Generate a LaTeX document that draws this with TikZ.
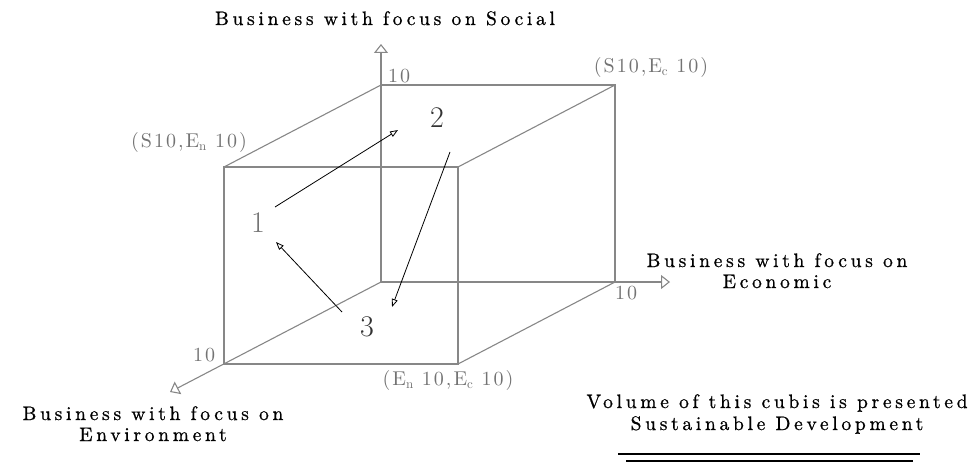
\documentclass[tikz,border=0pt]{standalone}
\usepackage{fontspec}
\usetikzlibrary{arrows.meta}
\newfontfamily\wideroman{lmroman10-regular.otf}[LetterSpace=19,FakeBold=0.8]
\newfontfamily\labroman{lmroman10-regular.otf}[LetterSpace=10]
\definecolor{cubegray}{RGB}{135,135,135}
\definecolor{labgray}{RGB}{115,115,115}
\tikzset{
 edge/.style={draw=cubegray, line width=1.1pt},
 axis/.style={edge, -{Triangle[open,length=9pt,width=14pt]}},
 move/.style={draw=black, line width=0.8pt, -{Triangle[open,length=8pt,width=6pt]}},
 title/.style={font=\wideroman\fontsize{19.5}{20}\selectfont, anchor=base, inner sep=0pt},
 coord/.style={text=labgray, font=\labroman\fontsize{20}{18}\selectfont, inner sep=0pt},
 num/.style={font=\fontsize{30}{30}\selectfont, inner sep=0pt},
 rule/.style={draw=black, line width=1.2pt}
}
\newcommand{\subsc}[1]{\raisebox{-3pt}{\fontsize{13}{13}\selectfont #1}}
\begin{document}
\begin{tikzpicture}[x=1pt,y=-1pt]
\useasboundingbox (0,0) rectangle (976,465);
% cube corners
\coordinate (O) at (381,282);
\coordinate (A) at (381,85);
\coordinate (B) at (615,85);
\coordinate (C) at (615,282);
\coordinate (D) at (224,167);
\coordinate (E) at (458,167);
\coordinate (F) at (458,364);
\coordinate (G) at (224,364);
\coordinate (Stip) at (381,44);
\coordinate (Etip) at (670,282);
\coordinate (Ntip) at (170,392);
% cube
\draw[edge] (D) rectangle (F);
\draw[edge] (A) -- (B) -- (C);
\draw[edge] (D) -- (A);
\draw[edge] (E) -- (B);
\draw[edge] (F) -- (C);
% axes
\draw[axis] (O) -- (Stip);
\draw[axis] (O) -- (Etip);
\draw[axis] (O) -- (Ntip);
% axis labels
\node[coord] (l1) at (399,76) {10};
\node[coord] (l2) at (626,293) {10};
\node[coord] (l3) at (204,355) {10};
\node[coord] (c1) at (189,143) {(S10,E\subsc{n} 10)};
\node[coord] (c2) at (651,68) {(S10,E\subsc{c} 10)};
\node[coord] (c3) at (448,380) {(E\subsc{n} 10,E\subsc{c} 10)};
% numbers
\node[num, text=labgray] (n1) at (258,223) {1};
\node[num, text=black!80] (n2) at (437,118) {2};
\node[num, text=black!80] (n3) at (367,327) {3};
% movement arrows
\coordinate (m1s) at (275,207);
\coordinate (m1e) at (398,130);
\coordinate (m2s) at (450,152);
\coordinate (m2e) at (392,307);
\coordinate (m3s) at (342,312);
\coordinate (m3e) at (276,242);
\draw[move] (m1s) -- (m1e);
\draw[move] (m2s) -- (m2e);
\draw[move] (m3s) -- (m3e);
% titles
\node[title] (tS) at (385,25) {Business with focus on Social};
\node[title] (tE1) at (777,267) {Business with focus on};
\node[title] (tE2) at (777,288) {Economic};
\node[title] (tN1) at (153,420) {Business with focus on};
\node[title] (tN2) at (153,441) {Environment};
\node[title] (tV1) at (777,408) {Volume of this cubis is presented};
\node[title] (tV2) at (777,430) {Sustainable Development};
% double rule
\coordinate (r1a) at (618,454);
\coordinate (r1b) at (920,454);
\coordinate (r2a) at (626,461);
\coordinate (r2b) at (913,461);
\draw[rule] (r1a) -- (r1b);
\draw[rule] (r2a) -- (r2b);
\end{tikzpicture}
\end{document}
